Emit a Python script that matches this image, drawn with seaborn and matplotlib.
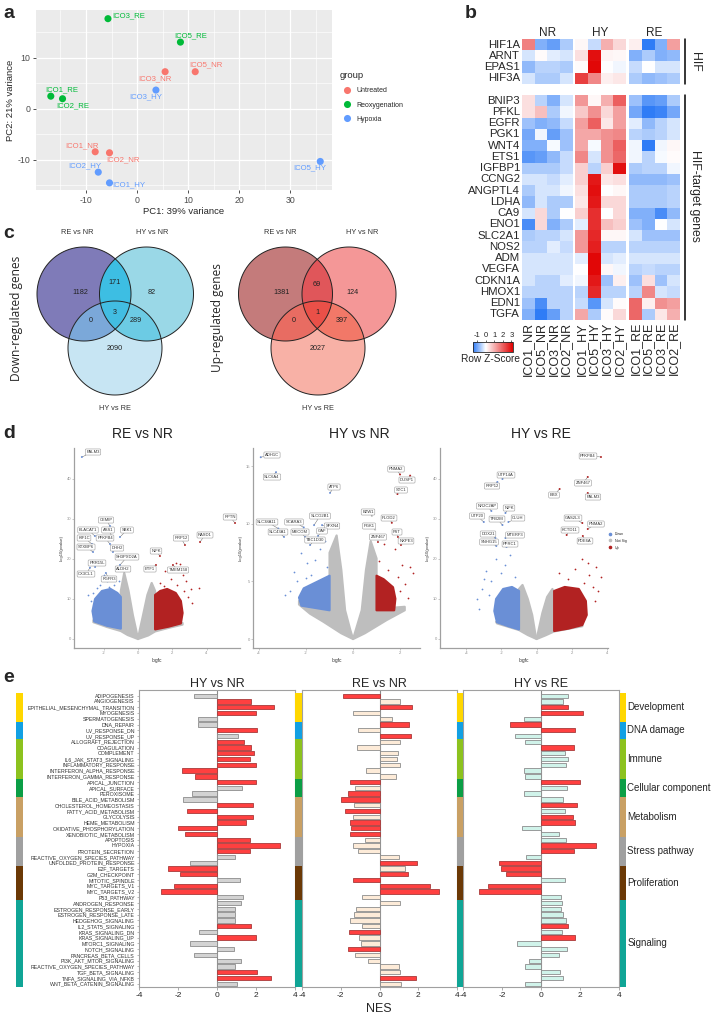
import numpy as np
import pandas as pd
import matplotlib
matplotlib.use('Agg')
import matplotlib.pyplot as plt
import matplotlib.transforms as mtrans
from matplotlib.colors import LinearSegmentedColormap, Normalize
from matplotlib.cm import ScalarMappable
from matplotlib.lines import Line2D
import seaborn as sns

# ---------------- panel a: PCA ----------------
pca_samples = ['ICO3_RE', 'ICO5_RE', 'ICO3_NR', 'ICO5_NR', 'ICO3_HY', 'ICO1_RE',
               'ICO2_RE', 'ICO1_NR', 'ICO2_NR', 'ICO2_HY', 'ICO1_HY', 'ICO5_HY']
pca_pc1 = [-5.7, 8.5, 5.5, 11.4, 3.7, -16.9, -14.6, -8.2, -5.4, -7.6, -5.4, 35.9]
pca_pc2 = [17.7, 13.1, 7.3, 7.3, 3.7, 2.5, 2.0, -8.4, -8.6, -12.4, -14.5, -10.3]
pca_group = ['Reoxygenation', 'Reoxygenation', 'Untreated', 'Untreated', 'Hypoxia',
             'Reoxygenation', 'Reoxygenation', 'Untreated', 'Untreated', 'Hypoxia',
             'Hypoxia', 'Hypoxia']

# ---------------- panel b: heatmap (row z-scores) ----------------
hm_cols = ['ICO1_NR', 'ICO5_NR', 'ICO3_NR', 'ICO2_NR', 'ICO1_HY', 'ICO5_HY', 'ICO3_HY',
           'ICO2_HY', 'ICO1_RE', 'ICO5_RE', 'ICO3_RE', 'ICO2_RE']
hif_genes = ['HIF1A', 'ARNT', 'EPAS1', 'HIF3A']
hif_vals = [
    [1.6, -0.9, -1.1, -0.6, 0.1, -0.4, 1.0, 0.5, 0.2, -1.5, -0.9, 1.2],
    [-0.3, 0.05, -0.2, -0.3, 0.4, 3.0, 0.15, 0.1, -0.9, -0.6, -0.9, -0.8],
    [-0.8, -0.5, -0.5, -0.6, 0.05, 3.1, 0.0, -0.1, -0.4, 0.0, -0.3, -0.3],
    [-0.3, -0.6, -0.6, -0.3, 2.4, 1.5, 0.2, 0.3, -0.6, -0.8, -0.7, -0.6],
]
tgt_genes = ['BNIP3', 'PFKL', 'EGFR', 'PGK1', 'WNT4', 'ETS1', 'IGFBP1', 'CCNG2', 'ANGPTL4',
             'LDHA', 'CA9', 'ENO1', 'SLC2A1', 'NOS2', 'ADM', 'VEGFA', 'CDKN1A', 'HMOX1',
             'EDN1', 'TGFA']
tgt_vals = [
    [0.4, -0.5, -0.9, -0.3, 1.3, 0.1, 1.0, 2.0, -0.7, -1.2, -1.1, -0.6],
    [0.4, 0.8, -0.6, -0.1, 0.7, 1.4, 0.5, 1.2, -1.0, -1.5, -1.4, -1.0],
    [-0.7, -0.9, -0.8, -0.4, 1.2, 2.0, 0.3, 1.2, -0.2, -0.8, -0.5, -0.3],
    [-1.0, -0.1, -1.1, -0.7, 1.1, 1.1, 1.4, 1.5, -0.5, -0.6, -0.5, -0.3],
    [-0.9, -0.9, -0.05, -0.7, 1.1, -0.05, 1.4, 2.0, -0.1, -1.5, -0.1, 0.1],
    [-1.2, -1.1, -0.8, -0.4, 1.5, -0.3, 1.4, 1.9, -0.1, -0.5, -0.05, 0.05],
    [-0.6, -0.6, -0.6, -0.4, 0.6, -0.5, 0.6, 3.0, -0.6, -0.5, -0.5, -0.1],
    [-0.3, -0.3, -0.4, -0.2, 0.6, 2.9, 0.3, 0.4, -0.8, -0.8, -0.8, -0.7],
    [-0.6, -0.3, -0.3, -0.1, 0.4, 3.0, 0.0, 0.1, -0.6, -0.6, -0.6, -0.5],
    [-0.8, -0.3, -0.6, -0.6, 0.3, 2.9, 0.5, 0.5, -0.6, -0.6, -0.6, -0.5],
    [-0.3, 0.5, -0.6, 0.0, 0.6, 2.6, 0.0, 0.5, -0.9, -0.9, -1.3, -0.8],
    [-1.3, 0.5, -0.9, -0.6, -0.2, 2.6, 0.8, 0.6, -0.7, -0.9, 0.0, -0.3],
    [-0.6, -0.5, -0.5, -0.3, 1.3, 2.7, 0.1, 0.1, -0.3, -0.7, -0.7, -0.7],
    [-0.5, -0.5, -0.2, -0.4, 1.3, 2.8, -0.5, -0.5, -0.5, -0.5, -0.5, -0.5],
    [-0.3, -0.3, -0.3, -0.3, -0.2, 3.1, -0.3, -0.2, -0.3, -0.3, -0.3, -0.3],
    [-0.3, -0.3, -0.3, -0.3, 0.0, 3.1, 0.1, -0.1, -0.5, -0.4, -0.5, -0.5],
    [-0.3, -0.5, -0.5, -0.2, -0.1, 2.9, -0.7, 0.2, -0.7, 0.4, -0.7, -0.3],
    [-0.5, -0.5, -0.5, -0.5, -0.5, 2.7, -0.5, -0.5, -0.5, 1.5, -0.3, -0.4],
    [-0.7, -1.3, -0.5, -0.5, -0.4, -1.2, -0.3, 0.05, 1.9, 0.2, 1.4, 1.2],
    [-0.9, -1.5, -1.1, -0.5, 1.1, -0.6, 0.05, 0.5, 1.9, -0.6, 0.3, 1.0],
]
hm_groups = ['NR', 'HY', 'RE']

# ---------------- panel c: Venn counts ----------------
venn_sets = ['RE vs NR', 'HY vs NR', 'HY vs RE']
# order: A only, B only, C only, AB, AC, BC, ABC
venn_down = [1182, 82, 2090, 171, 0, 289, 3]
venn_up = [1381, 124, 2027, 69, 0, 397, 1]

# ---------------- panel d: volcano plots (outlines of dense clouds) ----------------
# RE vs NR
v1_nsl_x = [0, -0.6, -1.0, -1.8, -2.6, -2.6, -1.0, -1.0, -0.8, -0.55, -0.3, -0.12]
v1_nsl_y = [0, 1.0, 2.0, 3.0, 4.2, 4.7, 3.0, 12.0, 16.5, 12.0, 6.0, 2.5]
v1_nsr_x = [0, 0.12, 0.3, 0.55, 0.8, 1.0, 1.0, 2.6, 2.6, 1.8, 1.0, 0.6]
v1_nsr_y = [0, 2.5, 6.0, 11.0, 14.0, 12.0, 3.0, 4.0, 3.6, 2.8, 1.9, 0.9]
v1_dn_x = [-1.0, -1.8, -2.55, -2.65, -2.5, -2.1, -1.6, -1.2, -1.0]
v1_dn_y = [2.6, 3.3, 4.4, 7.0, 10.0, 12.0, 12.5, 11.5, 10.5]
v1_up_x = [1.0, 1.8, 2.5, 2.6, 2.5, 2.2, 1.7, 1.3, 1.0]
v1_up_y = [2.4, 3.1, 3.9, 6.5, 9.5, 11.5, 12.5, 12.0, 11.0]
v1_sdn_x = [-2.75, -2.2, -1.5, -1.2, -1.8, -2.0, -2.9, -2.4, -1.4, -1.1, -2.6, -1.7]
v1_sdn_y = [9.5, 13.5, 15.5, 17.5, 14.5, 16.0, 11.0, 12.8, 13.5, 14.5, 11.5, 13.0]
v1_sup_x = [3.07, 3.57, 3.13, 2.48, 2.2, 2.8, 1.6, 2.6, 1.9, 1.3, 2.9, 2.3, 1.5, 2.7]
v1_sup_y = [12.5, 12.8, 9.1, 18.7, 18.9, 14.5, 17.0, 16.0, 15.0, 14.0, 10.5, 13.5, 13.2, 12.0]
v1_gene = ['PALM3', 'CEMIP', 'BLACAT1', 'ASS1', 'SBK1', 'KIF1C', 'PFKFB4', 'STXBP6', 'DHH2',
           'PRR15L', 'SH3PXD2A', 'ALDH2', 'CX3CL1', 'FGFR3', 'RPTN', 'RASD1', 'RRP12', 'NIFK',
           'ETF1', 'TMEM158']
v1_gx = [-3.27, -1.63, -2.51, -1.52, -1.05, -2.68, -1.63, -2.62, -1.46, -2.5, -1.05, -1.22,
         -2.8, -1.87, 5.66, 3.62, 2.74, 1.28, 1.05, 2.04]
v1_gy = [45.5, 28.25, 25.75, 25.75, 25.5, 23.75, 23.75, 21.75, 21.75, 18.0, 18.5, 17.75,
         17.8, 16.5, 29.0, 24.25, 23.5, 20.75, 18.5, 18.5]
v1_sig = ['dn'] * 14 + ['up'] * 6

# HY vs NR
v2_nsl_x = [0, -0.5, -1.26, -1.83, -2.3, -2.3, -1.0, -1.0, -0.7, -0.5, -0.34, -0.12]
v2_nsl_y = [0, 0.5, 1.5, 2.2, 3.0, 3.3, 2.6, 7.5, 9.0, 6.0, 2.5, 0.8]
v2_nsr_x = [0, 0.12, 0.37, 0.55, 0.75, 1.0, 1.0, 2.2, 2.2, 1.43, 0.5]
v2_nsr_y = [0, 0.8, 2.5, 6.0, 8.5, 7.0, 2.6, 2.8, 2.5, 1.65, 0.5]
v2_dn_x = [-1.0, -2.2, -2.3, -2.1, -1.5, -1.0]
v2_dn_y = [2.5, 2.9, 3.6, 4.4, 5.0, 5.5]
v2_up_x = [1.0, 1.75, 1.8, 1.7, 1.3, 1.0]
v2_up_y = [2.5, 2.5, 3.5, 4.5, 5.2, 5.5]
v2_sdn_x = [-2.4, -1.97, -2.7, -1.4, -2.2, -1.2, -2.5, -1.8, -1.1, -2.9, -1.6, -2.0]
v2_sdn_y = [5.0, 6.6, 4.2, 7.8, 7.5, 8.5, 5.8, 5.6, 6.3, 3.8, 6.9, 5.3]
v2_sup_x = [2.43, 2.57, 2.07, 1.8, 1.3, 2.2, 1.9, 2.35, 1.5, 2.0, 1.1]
v2_sup_y = [6.3, 5.7, 6.4, 7.8, 8.3, 4.8, 5.4, 3.6, 6.0, 4.2, 6.8]
v2_gene = ['ADH1C', 'SLC6A4', 'ATP6', 'PNMA2', 'DUSP1', 'STC1', 'BZW1', 'PLOD2', 'SLCO2B1',
           'SFXN4', 'SCARA3', 'SLC38A11', 'PGK1', 'SLC43A1', 'MECOM', 'GAF', 'TBC1D30',
           'ZNF467', 'FST', 'NXPE3']
v2_gx = [-3.93, -3.28, -0.98, 2.0, 2.43, 1.89, 0.8, 1.65, -1.66, -1.32, -2.1, -3.18, 0.94,
         -2.94, -2.04, -1.49, -1.83, 1.06, 1.91, 2.04]
v2_gy = [15.8, 14.5, 12.7, 14.3, 14.2, 12.6, 10.7, 10.1, 9.9, 9.9, 9.7, 9.6, 9.5, 8.87, 8.87,
         8.96, 8.17, 8.43, 8.87, 8.17]
v2_sig = ['dn', 'dn', 'dn', 'up', 'up', 'up', 'ns', 'up', 'dn', 'dn', 'dn', 'dn', 'ns', 'dn',
          'dn', 'dn', 'dn', 'up', 'up', 'up']

# HY vs RE
v3_nsl_x = [0, -0.5, -1.0, -2.25, -2.3, -1.0, -1.0, -0.8, -0.5, -0.25, -0.08]
v3_nsl_y = [0, 1.0, 2.25, 3.9, 4.3, 3.0, 12.5, 13.5, 10.0, 6.0, 1.5]
v3_nsr_x = [0, 0.08, 0.33, 0.6, 0.9, 1.0, 1.0, 2.6, 2.6, 1.0, 0.5]
v3_nsr_y = [0, 1.5, 6.5, 10.5, 12.5, 11.0, 2.6, 3.6, 3.2, 1.9, 0.9]
v3_dn_x = [-1.0, -1.6, -2.25, -2.4, -2.3, -1.9, -1.4, -1.0]
v3_dn_y = [2.4, 3.2, 4.2, 7.0, 10.0, 12.5, 13.0, 12.0]
v3_up_x = [1.0, 1.8, 2.6, 2.85, 2.8, 2.4, 1.6, 1.0]
v3_up_y = [2.0, 2.6, 3.5, 6.0, 9.5, 12.5, 13.0, 12.0]
v3_sdn_x = [-3.4, -3.1, -2.9, -2.3, -1.5, -3.0, -2.6, -2.0, -1.2, -2.7, -1.8, -3.3]
v3_sdn_y = [10.0, 12.5, 17.0, 20.0, 21.0, 15.0, 14.5, 16.5, 15.5, 11.0, 18.5, 7.5]
v3_sup_x = [3.66, 3.4, 3.2, 2.6, 2.9, 3.5, 3.0, 2.2, 1.8, 3.3, 1.3, 2.7]
v3_sup_y = [15.6, 18.0, 13.0, 20.0, 19.0, 12.0, 16.0, 17.5, 15.0, 9.5, 16.5, 14.0]
v3_gene = ['PFKFB4', 'UTP14A', 'RRP12', 'ZNF467', 'BBX', 'PALM3', 'NR2C2AP', 'NIFK', 'UTP20',
           'TFB2M', 'CLUH', 'GAS2L3', 'PNMA2', 'DDX21', 'MTERF3', 'SNHG15', 'PPRC1', 'KCTD11',
           'PDE6A']
v3_gx = [3.66, -1.94, -2.23, 2.91, 1.31, 2.91, -2.57, -1.77, -3.0, -1.94, -1.6, 2.6, 2.91,
         -2.34, -1.77, -2.29, -1.71, 1.71, 2.63]
v3_gy = [45.5, 40.0, 39.25, 40.5, 37.5, 36.5, 32.0, 31.5, 29.25, 28.5, 29.25, 29.0, 27.5,
         25.25, 25.25, 23.25, 23.0, 26.0, 25.75]
v3_sig = ['up', 'dn', 'dn', 'up', 'up', 'up', 'dn', 'dn', 'dn', 'dn', 'dn', 'up', 'up', 'dn',
          'dn', 'dn', 'dn', 'up', 'up']

# ---------------- panel e: GSEA NES ----------------
pathways = ['ADIPOGENESIS', 'ANGIOGENESIS', 'EPITHELIAL_MESENCHYMAL_TRANSITION', 'MYOGENESIS',
            'SPERMATOGENESIS', 'DNA_REPAIR', 'UV_RESPONSE_DN', 'UV_RESPONSE_UP',
            'ALLOGRAFT_REJECTION', 'COAGULATION', 'COMPLEMENT', 'IL6_JAK_STAT3_SIGNALING',
            'INFLAMMATORY_RESPONSE', 'INTERFERON_ALPHA_RESPONSE', 'INTERFERON_GAMMA_RESPONSE',
            'APICAL_JUNCTION', 'APICAL_SURFACE', 'PEROXISOME', 'BILE_ACID_METABOLISM',
            'CHOLESTEROL_HOMEOSTASIS', 'FATTY_ACID_METABOLISM', 'GLYCOLYSIS', 'HEME_METABOLISM',
            'OXIDATIVE_PHOSPHORYLATION', 'XENOBIOTIC_METABOLISM', 'APOPTOSIS', 'HYPOXIA',
            'PROTEIN_SECRETION', 'REACTIVE_OXYGEN_SPECIES_PATHWAY', 'UNFOLDED_PROTEIN_RESPONSE',
            'E2F_TARGETS', 'G2M_CHECKPOINT', 'MITOTIC_SPINDLE', 'MYC_TARGETS_V1', 'MYC_TARGETS_V2',
            'P53_PATHWAY', 'ANDROGEN_RESPONSE', 'ESTROGEN_RESPONSE_EARLY', 'ESTROGEN_RESPONSE_LATE',
            'HEDGEHOG_SIGNALING', 'IL2_STAT5_SIGNALING', 'KRAS_SIGNALING_DN', 'KRAS_SIGNALING_UP',
            'MTORC1_SIGNALING', 'NOTCH_SIGNALING', 'PANCREAS_BETA_CELLS', 'PI3K_AKT_MTOR_SIGNALING',
            'REACTIVE_OXYGEN_SPECIES_PATHWAY', 'TGF_BETA_SIGNALING', 'TNFA_SIGNALING_VIA_NFKB',
            'WNT_BETA_CATENIN_SIGNALING']
categories = ['Development'] * 5 + ['DNA damage'] * 3 + ['Immune'] * 7 + \
             ['Cellular component'] * 3 + ['Metabolism'] * 7 + ['Stress pathway'] * 5 + \
             ['Proliferation'] * 6 + ['Signaling'] * 15
nes_hy_nr = [-1.2, 1.73, 2.94, 2.02, -1.0, -0.97, 2.07, 1.08, 1.40, 1.76, 1.91, 1.68, 2.02,
             -1.78, -1.11, 1.98, 1.26, -1.30, -1.73, 1.86, -1.52, 1.86, 1.47, -2.02, -1.64,
             1.68, 3.25, 1.68, 0.93, -1.37, -2.5, -1.90, 1.20, -2.22, -2.89, 1.32, 1.25, 0.92,
             0.92, 0.94, 1.74, -0.91, 2.0, -1.37, 0.88, -1.16, 1.21, 0.93, 2.03, 2.75, 1.03]
sig_hy_nr = [0, 1, 1, 1, 0, 0, 1, 0, 1, 1, 1, 1, 1, 1, 1, 1, 0, 0, 0, 1, 1, 1, 1, 1, 1, 1, 1,
             1, 0, 0, 1, 1, 0, 1, 1, 0, 0, 0, 0, 0, 1, 0, 1, 0, 0, 0, 0, 0, 1, 1, 0]
nes_re_nr = [-1.86, 1.04, 1.68, -1.38, 0.65, 1.50, -1.13, 1.61, 1.06, -1.15, 0.94, 0.91, 1.06,
             -0.72, 0.87, -1.54, -1.26, -1.62, -1.98, -1.30, -1.78, -1.37, -1.52, -1.47, -1.54,
             -0.75, -1.37, -1.13, 0.99, 1.91, 1.33, 1.49, -1.37, 2.63, 3.08, -0.91, 1.04, -1.21,
             -1.30, -1.50, -0.89, -1.57, -1.04, -0.94, -1.64, -1.25, -0.60, 0.99, 1.04, 1.88,
             1.09]
sig_re_nr = [1, 0, 1, 0, 0, 1, 0, 1, 0, 0, 0, 0, 0, 0, 0, 1, 0, 1, 1, 0, 1, 0, 1, 1, 1, 0, 0,
             0, 0, 1, 0, 1, 1, 1, 1, 0, 0, 0, 0, 0, 0, 1, 0, 0, 1, 0, 0, 0, 0, 1, 0]
nes_hy_re = [1.37, 1.15, 1.37, 2.17, -0.87, -1.61, 1.76, -1.35, -0.80, 1.69, 1.25, 1.38, 1.30,
             -0.89, -0.84, 1.98, 1.35, -0.85, 1.15, 1.86, 1.23, 1.62, 1.73, -0.99, 0.94, 1.30,
             2.80, 1.68, -0.77, -2.14, -2.03, -1.81, 1.25, -2.74, -3.16, 1.04, 1.09, 1.04, 1.15,
             1.30, 1.37, 1.09, 1.76, -1.21, 1.35, 0.91, -0.60, -0.80, 0.99, 1.15, -0.80]
sig_hy_re = [0, 0, 1, 1, 0, 1, 1, 0, 0, 1, 0, 0, 0, 0, 0, 1, 0, 0, 0, 1, 0, 1, 1, 0, 0, 0, 1,
             1, 0, 1, 1, 1, 0, 1, 1, 0, 0, 0, 0, 0, 1, 0, 1, 0, 0, 0, 0, 0, 0, 0, 0]
cat_order = ['Development', 'DNA damage', 'Immune', 'Cellular component', 'Metabolism',
             'Stress pathway', 'Proliferation', 'Signaling']

# ======================================================================
sns.set_theme(style='white')
plt.rcParams['font.family'] = ['Liberation Sans', 'DejaVu Sans']
plt.rcParams['axes.unicode_minus'] = False
NARROW = ['Liberation Sans Narrow', 'Liberation Sans', 'DejaVu Sans']

W, H = 711, 1016
fig = plt.figure(figsize=(W / 100, H / 100), dpi=100)


def rect(l, t, r, b):
    return [l / W, 1 - b / H, (r - l) / W, (b - t) / H]


lay = fig.add_axes([0, 0, 1, 1])
lay.set_xlim(0, W)
lay.set_ylim(H, 0)
lay.axis('off')
lay.set_zorder(20)
lay.patch.set_alpha(0)

for letter, (lx, ly) in zip('abcde', [(3, 13), (465, 13), (3, 234), (3, 434), (3, 678)]):
    lay.text(lx, ly, letter, fontsize=14, fontweight='bold', va='center', ha='left')

# ---------------- panel a ----------------
axa = fig.add_axes(rect(36, 10, 332, 190))
pal_a = {'Untreated': '#F8766D', 'Reoxygenation': '#00BA38', 'Hypoxia': '#619CFF'}
dfa = pd.DataFrame({'PC1': pca_pc1, 'PC2': pca_pc2, 'group': pca_group, 'name': pca_samples})
sns.scatterplot(data=dfa, x='PC1', y='PC2', hue='group',
                hue_order=['Untreated', 'Reoxygenation', 'Hypoxia'], palette=pal_a, s=26,
                edgecolor='none', ax=axa, zorder=3)
axa.set_facecolor('#EBEBEB')
axa.set_xlim(-19.8, 38.2)
axa.set_ylim(-15.9, 19.4)
axa.set_xticks([-10, 0, 10, 20, 30])
axa.set_yticks([-10, 0, 10])
axa.set_xticks([-15, -5, 5, 15, 25, 35], minor=True)
axa.set_yticks([-15, -5, 5, 15], minor=True)
axa.grid(which='major', color='white', lw=0.9)
axa.grid(which='minor', color='white', lw=0.45)
axa.set_axisbelow(True)
for s in axa.spines.values():
    s.set_visible(False)
axa.tick_params(which='major', length=2.5, width=0.6, color='#333333', labelsize=6.3,
                labelcolor='#4D4D4D', pad=1.5, bottom=True, left=True)
axa.tick_params(which='minor', length=0)
axa.set_xlabel('PC1: 39% variance', fontsize=6.8, labelpad=2)
axa.set_ylabel('PC2: 21% variance', fontsize=6.8, labelpad=2)
lab_off = {'ICO3_RE': (4, 3, 'left'), 'ICO5_RE': (10.7, 6.6, 'center'),
           'ICO3_NR': (-10, -6.6, 'center'), 'ICO5_NR': (10.4, 6.7, 'center'),
           'ICO3_HY': (-10.4, -6.7, 'center'), 'ICO1_RE': (10.7, 6.6, 'center'),
           'ICO2_RE': (10.6, -7, 'center'), 'ICO1_NR': (-13.7, 6.3, 'center'),
           'ICO2_NR': (13.4, -6.7, 'center'), 'ICO2_HY': (-13.7, 6.6, 'center'),
           'ICO1_HY': (19.7, -2.3, 'center'), 'ICO5_HY': (-10.7, -6.4, 'center')}
for nm, x, y, g in zip(pca_samples, pca_pc1, pca_pc2, pca_group):
    dx, dy, ha = lab_off[nm]
    axa.annotate(nm, (x, y), xytext=(dx, dy), textcoords='offset pixels', ha=ha,
                 va='center', fontsize=5.6, color=pal_a[g])
sns.move_legend(axa, 'upper left', bbox_to_anchor=(340 / W, 1 - 71 / H),
                bbox_transform=fig.transFigure, frameon=False, title='group', fontsize=5,
                title_fontsize=6.8, labelspacing=1.05, handletextpad=0.4, borderpad=0,
                borderaxespad=0, markerscale=1.0)
axa.get_legend()._legend_box.align = 'left'

# ---------------- panel b ----------------
vmin, vmax = -1.5, 3.2
hm_cmap = LinearSegmentedColormap.from_list(
    'zs', [(0, '#2F7CF6'), ((0 - vmin) / (vmax - vmin), '#FFFFFF'), (1, '#E00000')])
col_x = [522.0, 575.3, 629.3]
row_sets = [(hif_genes, np.array(hif_vals), 39, 84), (tgt_genes, np.array(tgt_vals), 95, 320)]
for ri, (genes, vals, top, bot) in enumerate(row_sets):
    for gi, g in enumerate(hm_groups):
        ax = fig.add_axes(rect(col_x[gi], top, col_x[gi] + 50.5, bot))
        sub = pd.DataFrame(vals[:, gi * 4:(gi + 1) * 4], index=genes,
                           columns=hm_cols[gi * 4:(gi + 1) * 4])
        sns.heatmap(sub, ax=ax, cmap=hm_cmap, vmin=vmin, vmax=vmax, cbar=False,
                    xticklabels=(ri == 1), yticklabels=(gi == 0))
        ax.tick_params(length=0, pad=1.5)
        if gi == 0:
            ax.set_yticklabels(genes, rotation=0, fontsize=8.2)
        if ri == 1:
            ax.set_xticklabels(sub.columns, rotation=90, fontsize=9, family=NARROW)
        else:
            ax.set_title(g, fontsize=8.5, pad=2)
        ax.set_xlabel('')
        ax.set_ylabel('')
lay.plot([685, 685], [39, 84], color='black', lw=1.1)
lay.plot([685, 685], [95, 320], color='black', lw=1.1)
lay.text(695, 62, 'HIF', rotation=270, ha='center', va='center', fontsize=8.8)
lay.text(695, 196, 'HIF-target genes', rotation=270, ha='center', va='center', fontsize=8.8)
cax = fig.add_axes(rect(473, 342, 513, 352))
cb = fig.colorbar(ScalarMappable(norm=Normalize(vmin, vmax), cmap=hm_cmap), cax=cax,
                  orientation='horizontal')
cax.xaxis.set_ticks_position('top')
cb.set_ticks([-1, 0, 1, 2, 3])
cax.tick_params(labelsize=5.5, length=1.5, width=0.5, pad=0.5)
cb.outline.set_linewidth(0.6)
lay.text(520, 359, 'Row Z-Score', ha='right', va='center', fontsize=7.3)

# ---------------- panel c: Venn diagrams ----------------


def circle_poly(cx, cy, r, n=240):
    t = np.linspace(0, 2 * np.pi, n, endpoint=False)
    return np.column_stack([cx + r * np.cos(t), cy + r * np.sin(t)])


def _inside(p, a, b):
    return (b[0] - a[0]) * (p[1] - a[1]) - (b[1] - a[1]) * (p[0] - a[0]) >= 0


def _inter(p, q, a, b):
    x1, y1 = p
    x2, y2 = q
    x3, y3 = a
    x4, y4 = b
    den = (x1 - x2) * (y3 - y4) - (y1 - y2) * (x3 - x4)
    t = ((x1 - x3) * (y3 - y4) - (y1 - y3) * (x3 - x4)) / den
    return (x1 + t * (x2 - x1), y1 + t * (y2 - y1))


def clip(subject, clipper):
    out = [tuple(p) for p in subject]
    m = len(clipper)
    for i in range(m):
        a, b = clipper[i], clipper[(i + 1) % m]
        inp, out = out, []
        if not inp:
            break
        s = inp[-1]
        for e in inp:
            if _inside(e, a, b):
                if not _inside(s, a, b):
                    out.append(_inter(s, e, a, b))
                out.append(e)
            elif _inside(s, a, b):
                out.append(_inter(s, e, a, b))
            s = e
    return np.array(out)


def venn(ax, centers, r, counts, cols, lab_pos, set_pos):
    P = [circle_poly(cx, cy, r) for cx, cy in centers]
    A, B, C = P
    regions = [A, B, C, clip(A, B), clip(A, C), clip(B, C), clip(clip(A, B), C)]
    for poly, col in zip(regions, cols):
        ax.fill(poly[:, 0], poly[:, 1], color=col, lw=0, zorder=2)
    for poly in P:
        ax.fill(poly[:, 0], poly[:, 1], fc='none', ec='#222222', lw=0.7, zorder=3)
    for n, (x, y) in zip(counts, lab_pos):
        ax.text(x, y, str(n), ha='center', va='center', fontsize=5.2, color='#222222', zorder=4)
    for s, (x, y) in zip(venn_sets, set_pos):
        ax.text(x, y, s, ha='center', va='center', fontsize=5.3, color='#333333', zorder=4)


venn(lay, [(84, 294), (146.5, 294), (115, 348)], 47, venn_down,
     ['#7F7BB8', '#9AD8E7', '#C7E5F3', '#3DBEE3', '#7BA8D9', '#6CCBE4', '#42BDE2'],
     [(80, 292), (152, 292), (115, 349), (115, 283), (91, 321), (136, 321), (115, 312)],
     [(77.5, 233), (152.5, 233), (115, 408)])
venn(lay, [(285.5, 294), (349, 294), (318, 348)], 47, venn_up,
     ['#C47B7B', '#F49797', '#F8B1A6', '#E0565A', '#E86C62', '#F27868', '#EA5048'],
     [(282, 292), (353, 292), (318, 349), (317, 284), (294, 321), (342, 321), (317, 312)],
     [(280, 233), (362, 233), (318, 408)])
lay.text(17, 318, 'Down-regulated genes', rotation=90, ha='center', va='center', fontsize=8.6,
         family=['Open Sans', 'DejaVu Sans'])
lay.text(218, 318, 'Up-regulated genes', rotation=90, ha='center', va='center', fontsize=8.6,
         family=['Open Sans', 'DejaVu Sans'])

# ---------------- panel d: volcano plots ----------------
C_DN, C_NS, C_UP = '#6A8FD6', '#BEBEBE', '#B22222'
sig_col = {'dn': C_DN, 'ns': C_NS, 'up': C_UP}
# label box centres (figure pixels, from top-left)
v1_lab = [(93, 452), (106, 520), (88, 530), (108, 530), (127, 530), (84, 538), (105, 538),
          (86, 547), (117, 548), (97, 563), (127, 557), (123, 569), (86, 574), (109, 579),
          (230, 517), (205, 535), (181, 538), (156, 551), (150, 569), (178, 570)]
v2_lab = [(272, 455), (272, 477), (334, 487), (396, 469), (407, 480), (401, 490), (368, 512),
          (389, 518), (320, 516), (332, 526), (294, 522), (267, 522), (369, 526), (278, 532),
          (300, 532), (322, 531), (315, 540), (378, 537), (397, 532), (406, 541)]
v3_lab = [(588, 456), (506, 475), (492, 486), (583, 483), (554, 495), (593, 497), (487, 506),
          (509, 508), (477, 516), (497, 519), (518, 518), (573, 518), (596, 524), (488, 534),
          (515, 535), (489, 542), (510, 544), (570, 530), (585, 541)]


def volcano(ax, nsl, nsr, dn, up, sdn, sup, genes, gx, gy, gsig, labpos):
    for poly, c in ((nsl, C_NS), (nsr, C_NS), (dn, C_DN), (up, C_UP)):
        ax.fill(poly[0], poly[1], color=c, lw=1.6, ec=c, zorder=1 if c == C_NS else 2,
                joinstyle='round')
    ax.scatter(sdn[0], sdn[1], s=1.6, color=C_DN, lw=0, zorder=3)
    ax.scatter(sup[0], sup[1], s=1.6, color=C_UP, lw=0, zorder=3)
    dfg = pd.DataFrame({'x': gx, 'y': gy, 'sig': gsig})
    sns.scatterplot(data=dfg, x='x', y='y', hue='sig', palette=sig_col, s=2, lw=0,
                    legend=False, ax=ax, zorder=4)
    for g, x, y, (lx, ly) in zip(genes, gx, gy, labpos):
        ax.annotate(g, (x, y), xytext=(lx, H - ly), textcoords='figure pixels', ha='center',
                    va='center', fontsize=3.0, color='#333333', zorder=5,
                    bbox=dict(boxstyle='round,pad=0.25', fc='white', ec='#9A9A9A', lw=0.4),
                    arrowprops=dict(arrowstyle='-', lw=0.3, color='#555555',
                                    shrinkA=0, shrinkB=0.5))
    for s in ['top', 'right']:
        ax.spines[s].set_visible(False)
    for s in ['left', 'bottom']:
        ax.spines[s].set_color('#A0A0A0')
        ax.spines[s].set_linewidth(0.9)
    ax.tick_params(labelsize=3, labelcolor='#909090', length=1.2, width=0.4, color='#A0A0A0',
                   pad=1, bottom=True, left=True)
    ax.set_xlabel('logfc', fontsize=3.5, labelpad=2, color='#333333')
    ax.set_ylabel('-log10(pvalue)', fontsize=3, labelpad=2, color='#333333')
    ax.set_facecolor('white')


axv1 = fig.add_axes(rect(74, 448, 240, 648))
volcano(axv1, (v1_nsl_x, v1_nsl_y), (v1_nsr_x, v1_nsr_y), (v1_dn_x, v1_dn_y),
        (v1_up_x, v1_up_y), (v1_sdn_x, v1_sdn_y), (v1_sup_x, v1_sup_y),
        v1_gene, v1_gx, v1_gy, v1_sig, v1_lab)
axv1.set_xlim(-3.73, 5.95)
axv1.set_ylim(-2.25, 47.75)
axv1.set_xticks([-2, 0, 2, 4])
axv1.set_yticks([0, 10, 20, 30, 40])

axv2 = fig.add_axes(rect(253, 448, 420, 648))
volcano(axv2, (v2_nsl_x, v2_nsl_y), (v2_nsr_x, v2_nsr_y), (v2_dn_x, v2_dn_y),
        (v2_up_x, v2_up_y), (v2_sdn_x, v2_sdn_y), (v2_sup_x, v2_sup_y),
        v2_gene, v2_gx, v2_gy, v2_sig, v2_lab)
axv2.set_xlim(-4.26, 2.85)
axv2.set_ylim(-0.78, 16.6)
axv2.set_xticks([-4, -2, 0, 2])
axv2.set_yticks([0, 5, 10, 15])

axv3 = fig.add_axes(rect(440, 448, 608, 648))
volcano(axv3, (v3_nsl_x, v3_nsl_y), (v3_nsr_x, v3_nsr_y), (v3_dn_x, v3_dn_y),
        (v3_up_x, v3_up_y), (v3_sdn_x, v3_sdn_y), (v3_sup_x, v3_sup_y),
        v3_gene, v3_gx, v3_gy, v3_sig, v3_lab)
axv3.set_xlim(-5.49, 4.06)
axv3.set_ylim(-2.25, 47.75)
axv3.set_xticks([-4, -2, 0, 2, 4])
axv3.set_yticks([0, 10, 20, 30, 40])
hnd = [Line2D([], [], marker='o', ls='', color=c, markersize=1.6) for c in (C_DN, C_NS, C_UP)]
axv3.legend(hnd, ['Down', 'Not Sig', 'Up'], loc='upper left',
            bbox_to_anchor=(605 / W, 1 - 530 / H), bbox_transform=fig.transFigure,
            frameon=False, fontsize=2.6, handletextpad=0.2, labelspacing=0.8, borderpad=0)
for t, x in zip(['RE vs NR', 'HY vs NR', 'HY vs RE'], [142, 359, 541]):
    lay.text(x, 434, t, ha='center', va='center', fontsize=10, family=NARROW, color='#222222')

# ---------------- panel e: NES bars ----------------
rows = np.arange(len(pathways))
ylim_e = (50.57, -0.99)
cat_colors = {'Development': '#FFD700', 'DNA damage': '#12A0E3', 'Immune': '#8CC21E',
              'Cellular component': '#0B9E46', 'Metabolism': '#C9A064',
              'Stress pathway': '#A0A0A0', 'Proliferation': '#6B3906', 'Signaling': '#10A596'}
panels = [('HY vs NR', nes_hy_nr, sig_hy_nr, '#D3D3D3', 139, 295),
          ('RE vs NR', nes_re_nr, sig_re_nr, '#FDEBD8', 302, 457),
          ('HY vs RE', nes_hy_re, sig_hy_re, '#D0F3EA', 463, 619)]
for pi, (title, nes, sig, nscol, l, r) in enumerate(panels):
    ax = fig.add_axes(rect(l, 690, r, 987))
    dfe = pd.DataFrame({'nes': nes, 'row': rows, 'sig': ['s' if v else 'n' for v in sig]})
    ax.axvline(0, color='#8A8A8A', lw=0.8, zorder=0)
    sns.barplot(data=dfe, x='nes', y='row', hue='sig', orient='y', native_scale=True,
                palette={'s': '#FF4040', 'n': nscol}, dodge=False, errorbar=None, width=0.75,
                legend=False, ax=ax, linewidth=0.6, zorder=2, saturation=1)
    for p in ax.patches:
        fc = p.get_facecolor()
        p.set_edgecolor('#A83A3A' if (fc[0] > 0.9 and fc[1] < 0.4) else '#8C8C8C')
    ax.set_ylim(*ylim_e)
    ax.set_xlim(-4, 4)
    ax.set_xticks([-4, -2, 0, 2, 4])
    ax.set_xlabel('')
    ax.set_ylabel('')
    for s in ax.spines.values():
        s.set_color('#A0A0A0')
        s.set_linewidth(0.8)
    ax.tick_params(axis='x', labelsize=6, length=2, width=0.5, color='#888888', pad=1.5,
                   bottom=True)
    if pi == 0:
        ax.set_yticks(rows)
        ax.set_yticklabels(pathways, fontsize=3.8, color='#333333')
        ax.tick_params(axis='y', length=1.5, width=0.4, color='#888888', pad=1.5, left=True)
    else:
        ax.set_yticks([])
    ax.set_title(title, fontsize=9, pad=2)
# category strips
strip_pos = [(16, 23), (295, 302), (457, 463), (620, 626)]
dfs = pd.DataFrame({'row': rows, 'one': 1.0, 'cat': categories})
for si, (l, r) in enumerate(strip_pos):
    sax = fig.add_axes(rect(l, 690, r, 987))
    sns.barplot(data=dfs, x='one', y='row', hue='cat', orient='y', native_scale=True,
                palette=cat_colors, dodge=False, errorbar=None, width=1.0, legend=False,
                ax=sax, linewidth=0, saturation=1)
    sax.set_xlim(0, 1)
    sax.set_ylim(*ylim_e)
    sax.axis('off')
    if si == 3:
        tr = mtrans.blended_transform_factory(sax.transAxes, sax.transData)
        for c in cat_order:
            idx = [i for i, v in enumerate(categories) if v == c]
            sax.text(1.2, (idx[0] + idx[-1]) / 2, c, transform=tr, fontsize=7.0,
                     va='center', ha='left')
lay.text(379, 1009, 'NES', ha='center', va='center', fontsize=9)

fig.savefig('out.png', dpi=100)
